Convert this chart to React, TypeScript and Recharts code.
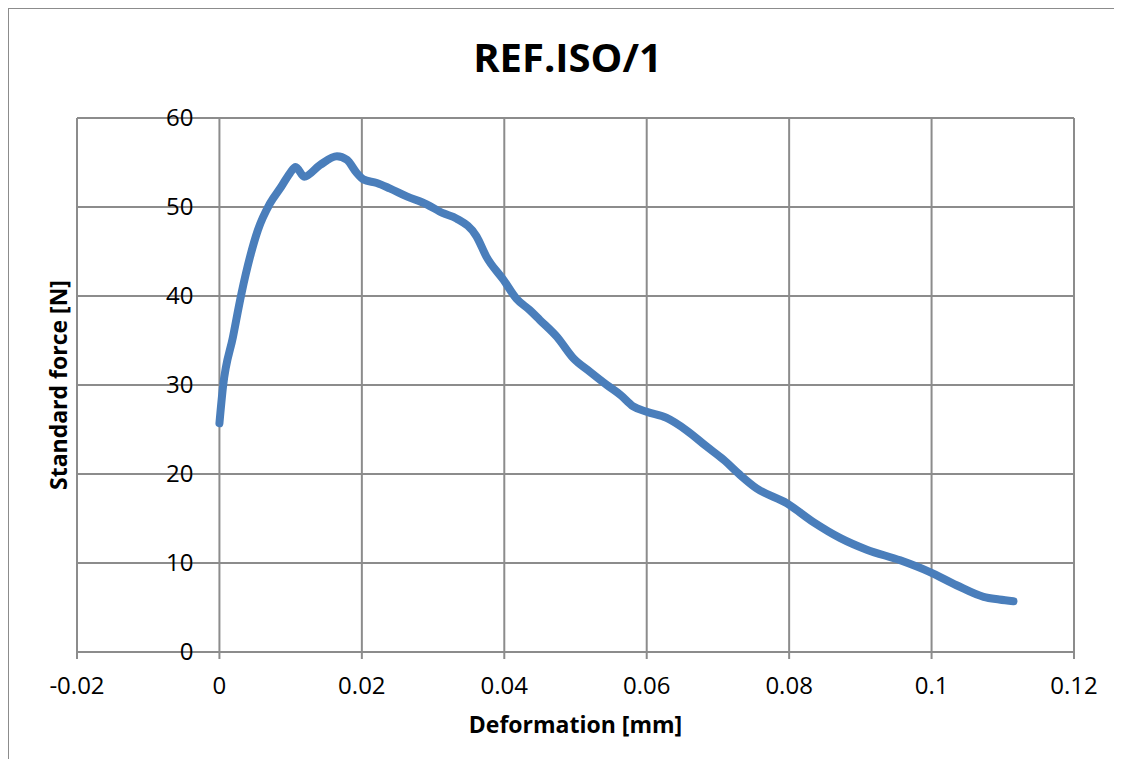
import { LineChart, Line, XAxis, YAxis, CartesianGrid } from 'recharts'

const deformation = [
  0, 0.0005, 0.0019, 0.0031, 0.0043, 0.0054, 0.0071, 0.0087, 0.0099, 0.0107, 0.0119, 0.0141,
  0.0165, 0.0179, 0.0193, 0.0202, 0.0221, 0.0239, 0.0263, 0.0291, 0.0314, 0.0333, 0.0361,
  0.0375, 0.0399, 0.0417, 0.0436, 0.045, 0.0474, 0.0497, 0.052, 0.0544, 0.0563, 0.0581, 0.06,
  0.0628, 0.0656, 0.0684, 0.0708, 0.0731, 0.0754, 0.0797, 0.0834, 0.0872, 0.0909, 0.0956,
  0.0997, 0.1035, 0.1073, 0.1095, 0.1115,
]
const force = [
  25.7, 29.8, 35.4, 40.3, 44.4, 47.4, 50.4, 52.3, 53.8, 54.5, 53.4, 54.7, 55.7, 55.3, 53.8,
  53.1, 52.7, 52.1, 51.2, 50.3, 49.3, 48.7, 46.7, 44.4, 41.8, 39.7, 38.4, 37.3, 35.4, 33.0,
  31.5, 30.0, 28.9, 27.6, 27.0, 26.3, 24.9, 23.1, 21.6, 19.9, 18.4, 16.7, 14.6, 12.8, 11.5,
  10.3, 9.0, 7.5, 6.2, 5.9, 5.7,
]
const xTicks = [-0.02, 0, 0.02, 0.04, 0.06, 0.08, 0.1, 0.12]
const yTicks = [0, 10, 20, 30, 40, 50, 60]

const data = deformation.map((x, i) => ({ x, y: force[i] }))

const W = 1114
const H = 759
const M = { top: 110, right: 48, left: 0, bottom: 0 }
const Y_W = 69
const PLOT_W = W - M.left - M.right - Y_W
// y axis crosses at deformation = 0
const Y_SHIFT = (PLOT_W * (0 - xTicks[0])) / (xTicks[xTicks.length - 1] - xTicks[0])

const GRID = '#8c8c8c'
const FONT = '"Open Sans", sans-serif'

function YTick({ x, y, payload }: any) {
  const ax = x + Y_SHIFT
  return (
    <g>
      <line x1={ax - 7} x2={ax} y1={y} y2={y} stroke={GRID} strokeWidth={2} />
      <text x={ax - 26} y={y} dy="0.35em" textAnchor="end" fontSize={24} fontFamily={FONT} fill="#000">
        {payload.value}
      </text>
    </g>
  )
}

export default function App() {
  return (
    <div style={{ position: 'relative', width: W, height: H, marginBottom: -8 }}>
      <div
        style={{
          position: 'absolute',
          left: -1,
          top: -1,
          width: 1115,
          height: 760,
          borderLeft: '2px solid #8c8c8c',
          borderTop: '2px solid #8c8c8c',
          boxSizing: 'border-box',
        }}
      />
      <svg style={{ position: 'absolute', left: 0, top: 0 }} width={W} height={90}>
        <text x={559.5} y={64} textAnchor="middle" fontSize={40} fontWeight="bold" fontFamily={FONT} fill="#000">
          REF.ISO/1
        </text>
      </svg>
      <LineChart width={W} height={H} data={data} margin={M} style={{ position: 'absolute', left: 0, top: 0 }}>
        <CartesianGrid stroke={GRID} strokeWidth={2} />
        <XAxis
          dataKey="x"
          type="number"
          domain={[-0.02, 0.12]}
          ticks={xTicks}
          allowDataOverflow
          height={H - 644}
          axisLine={{ stroke: GRID, strokeWidth: 2 }}
          tickLine={{ stroke: GRID, strokeWidth: 2 }}
          tickSize={7}
          tickMargin={18}
          tick={{ fontSize: 24, fontFamily: FONT, fill: '#000' }}
          tickFormatter={(v: number) => String(v)}
          label={{
            content: ({ viewBox }: any) => (
              <text
                x={viewBox.x + viewBox.width / 2}
                y={viewBox.y + 81}
                textAnchor="middle"
                fontSize={23}
                fontWeight="bold"
                fontFamily={FONT}
                fill="#000"
              >
                Deformation [mm]
              </text>
            ),
          }}
        />
        <YAxis
          dataKey="y"
          type="number"
          domain={[0, 60]}
          ticks={yTicks}
          width={Y_W}
          axisLine={false}
          tickLine={false}
          tickSize={0}
          tickMargin={0}
          tick={<YTick />}
          label={{
            content: ({ viewBox }: any) => {
              const cx = viewBox.x + 59
              const cy = viewBox.y + viewBox.height / 2
              return (
                <text
                  x={cx}
                  y={cy}
                  transform={`rotate(-90, ${cx}, ${cy})`}
                  textAnchor="middle"
                  fontSize={23}
                  fontWeight="bold"
                  fontFamily={FONT}
                  fill="#000"
                >
                  Standard force [N]
                </text>
              )
            },
          }}
        />
        <Line
          dataKey="y"
          type="monotoneX"
          stroke="#4A7EBB"
          strokeWidth={8}
          strokeLinejoin="round"
          strokeLinecap="round"
          dot={false}
          isAnimationActive={false}
        />
      </LineChart>
    </div>
  )
}
